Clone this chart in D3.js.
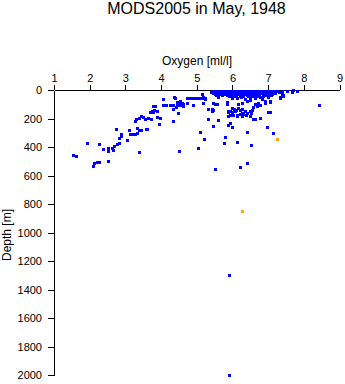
<!DOCTYPE html>
<html>
<head>
<meta charset="utf-8">
<script src="https://cdn.jsdelivr.net/npm/d3@7"></script>
<style>
  html, body { margin: 0; padding: 0; background: #fff; }
  svg { display: block; font-family: "Liberation Sans", Arial, Helvetica, sans-serif; }
</style>
</head>
<body>
<svg id="chart" width="345" height="384"></svg>
<script>
// Oxygen profile observations, May 1948 (ml/l vs depth in metres)
const goodOxygen = [
  1.54, 1.62, 1.93, 2.13, 2.20, 2.25, 2.10, 2.26, 2.38, 2.50, 2.52, 2.63, 2.66, 2.68, 2.51,
  2.76, 2.81, 2.83, 2.87, 2.89, 3.04, 2.74, 3.11, 3.13, 3.20, 3.27, 3.33, 3.33, 3.39, 3.45,
  3.58, 3.61, 3.38, 3.28, 3.30, 3.39, 3.43, 3.49, 3.64, 3.71, 3.55, 3.69, 3.78, 3.88, 3.90,
  3.93, 3.74, 3.80, 3.78, 3.83, 3.97,
  4.06, 4.14, 4.25, 4.34, 4.44, 4.53,
  4.06, 4.34, 4.42, 4.33, 4.37, 4.48, 4.53, 4.58, 4.62, 4.61,
  4.72, 4.76, 4.81, 4.89, 4.95, 5.00, 5.09, 5.18, 5.23,
  4.90, 5.09, 5.32, 5.32, 5.42, 5.46, 5.46, 5.51,
  4.36, 4.39, 4.48, 5.42, 5.60, 5.20, 4.51, 5.04, 5.79, 5.76, 6.14, 6.53, 6.42, 5.98, 5.88,
  5.93, 5.88, 5.93, 6.02, 6.12, 5.88, 5.98, 6.07, 6.26, 6.38, 6.51, 6.58, 6.63, 6.77, 6.96,
  7.15, 6.42, 6.21, 5.51, 8.43, 7.52, 7.66, 7.71, 7.42, 7.33, 7.00, 6.77, 6.91, 7.05, 6.26,
  6.40, 6.49, 4.44, 4.53, 4.72, 5.18, 5.46, 5.56, 5.84, 6.16,
  5.14, 5.18, 5.23, 5.60, 5.86, 5.88, 5.93, 5.98, 6.05, 6.15, 6.10, 6.20, 6.26, 6.21, 6.12,
  6.26, 6.30, 6.35, 6.40, 6.49, 6.54, 6.49, 6.58, 6.68, 6.72, 6.63, 6.82, 6.91, 7.00, 7.05,
  7.05, 7.33, 7.42, 7.38, 7.80,
  5.45, 5.55, 5.65, 5.75, 5.85, 5.95, 6.05, 6.15, 6.25, 6.35, 6.45, 6.55, 6.65, 6.75, 6.85,
  6.95, 7.05, 7.15, 7.25,
  5.40, 5.50, 5.60, 5.70, 5.80, 5.90, 6.00, 6.10, 6.20, 6.30, 6.40, 6.50, 6.60, 6.70, 6.80,
  6.90, 7.00, 7.10, 7.20, 7.30,
  5.50, 5.62, 5.75, 5.88, 6.00, 6.12, 6.25, 6.38, 6.50, 6.62, 6.75, 6.88, 7.00, 7.12,
  5.55, 5.70, 5.85, 6.00, 6.10, 6.20, 6.30, 6.40, 6.50, 6.60, 6.75, 6.90, 7.08,
  5.90, 6.05, 6.20, 6.30, 6.45, 6.55, 6.70, 6.85,
  5.42, 5.52, 5.60, 5.68, 5.78, 5.88, 5.98, 6.08, 6.18, 6.28, 6.38, 6.48, 6.58, 6.68, 6.78,
  6.88, 6.98, 7.08, 7.18, 7.28, 7.38,
  5.46, 5.58, 5.72, 5.83, 5.96, 6.08, 6.22, 6.34, 6.46, 6.58, 6.70, 6.82, 6.95, 7.06, 7.18,
  5.98, 6.12, 6.25, 6.36, 6.48, 6.62, 6.78,
  5.90, 5.90
];
const goodDepth = [
  456, 465, 370, 515, 503, 505, 531, 381, 414, 405, 426, 405, 423, 393, 500,
  381, 370, 339, 309, 321, 349, 271, 281, 309, 311, 309, 304, 264, 283, 281,
  276, 271, 433, 215, 204, 196, 185, 192, 196, 201, 206, 157, 152, 145, 192,
  239, 145, 140, 115, 112, 194,
  103, 103, 103, 103, 103, 103,
  63, 133, 121, 220, 51, 86, 79, 93, 98, 112,
  55, 55, 55, 55, 55, 55, 55, 55, 55,
  103, 297, 133, 204, 133, 140, 250, 98,
  47, 58, 159, 145, 211, 346, 426, 409, 332, 374, 365, 384, 292, 262, 246,
  234, 182, 175, 175, 182, 152, 152, 145, 164, 175, 164, 206, 206, 199, 262,
  299, 510, 538, 557, 105, 5, 12, 0, 35, 58, 152, 105, 93, 82, 89,
  75, 70, 82, 93, 93, 93, 89, 98, 82, 98,
  28, 51, 63, 51, 98, 145, 145, 125, 135, 125, 140, 140, 130, 168, 173,
  180, 168, 145, 164, 145, 140, 180, 121, 110, 93, 98, 63, 75, 51, 75,
  157, 51, 40, 28, 5,
  5, 5, 5, 5, 5, 5, 5, 5, 5, 5, 5, 5, 5, 5, 5,
  5, 5, 5, 5,
  15, 15, 15, 15, 15, 15, 15, 15, 15, 15, 15, 15, 15, 15, 15,
  15, 15, 15, 15, 15,
  25, 25, 25, 25, 25, 25, 25, 25, 25, 25, 25, 25, 25, 25,
  35, 35, 35, 35, 35, 35, 35, 35, 35, 35, 35, 35, 35,
  45, 45, 45, 45, 45, 45, 45, 45,
  10, 10, 10, 10, 10, 10, 10, 10, 10, 10, 10, 10, 10, 10, 10,
  10, 10, 10, 10, 10, 10,
  20, 20, 20, 20, 20, 20, 20, 20, 20, 20, 20, 20, 20, 20, 20,
  55, 58, 52, 60, 55, 58, 52,
  1300, 2000
];
// Questionable (flagged) observations
const flagOxygen = [7.26, 6.28];
const flagDepth = [346, 851];

const oxygenTicks = [1, 2, 3, 4, 5, 6, 7, 8, 9];
const depthTicks = [0, 200, 400, 600, 800, 1000, 1200, 1400, 1600, 1800, 2000];

const titleText = "MODS2005 in May, 1948";
const xLabel = "Oxygen [ml/l]";
const yLabel = "Depth [m]";

const svg = d3.select("#chart");
const x = d3.scaleLinear().domain([1, 9]).range([54, 339.5]);
const y = d3.scaleLinear().domain([0, 2000]).range([90, 375]);

// Title
svg.append("text")
  .attr("x", 196.5).attr("y", 13.5)
  .attr("text-anchor", "middle")
  .attr("font-size", 16)
  .text(titleText);

// Top axis (oxygen)
const xAxis = svg.append("g")
  .attr("transform", "translate(0,90)")
  .call(d3.axisTop(x).tickValues(oxygenTicks).tickSize(5).tickSizeOuter(0).tickPadding(3)
    .tickFormat(d3.format("d")));
xAxis.selectAll("text").attr("font-size", 11).attr("font-family", null).attr("fill", "#000");
xAxis.selectAll("line, path").attr("stroke", "#000").attr("shape-rendering", "crispEdges");

svg.append("text")
  .attr("x", 197).attr("y", 65)
  .attr("text-anchor", "middle")
  .attr("font-size", 12)
  .text(xLabel);

// Left axis (depth)
const yAxis = svg.append("g")
  .attr("transform", "translate(54,0)")
  .call(d3.axisLeft(y).tickValues(depthTicks).tickSize(6).tickSizeOuter(0).tickPadding(6)
    .tickFormat(d3.format("d")));
yAxis.selectAll("text").attr("font-size", 11).attr("font-family", null).attr("fill", "#000");
yAxis.selectAll("line, path").attr("stroke", "#000").attr("shape-rendering", "crispEdges");

svg.append("text")
  .attr("transform", "translate(11,235) rotate(-90)")
  .attr("text-anchor", "middle")
  .attr("font-size", 12)
  .text(yLabel);

// Observation markers
function drawPoints(xs, ys, color) {
  svg.append("g")
    .selectAll("rect")
    .data(d3.range(xs.length))
    .join("rect")
    .attr("x", i => Math.round(x(xs[i])) - 1)
    .attr("y", i => Math.round(y(ys[i])) - 1)
    .attr("width", 3)
    .attr("height", 3)
    .attr("fill", color)
    .attr("shape-rendering", "crispEdges");
}
drawPoints(goodOxygen, goodDepth, "#0000ff");
drawPoints(flagOxygen, flagDepth, "#ffa500");
</script>
</body>
</html>
